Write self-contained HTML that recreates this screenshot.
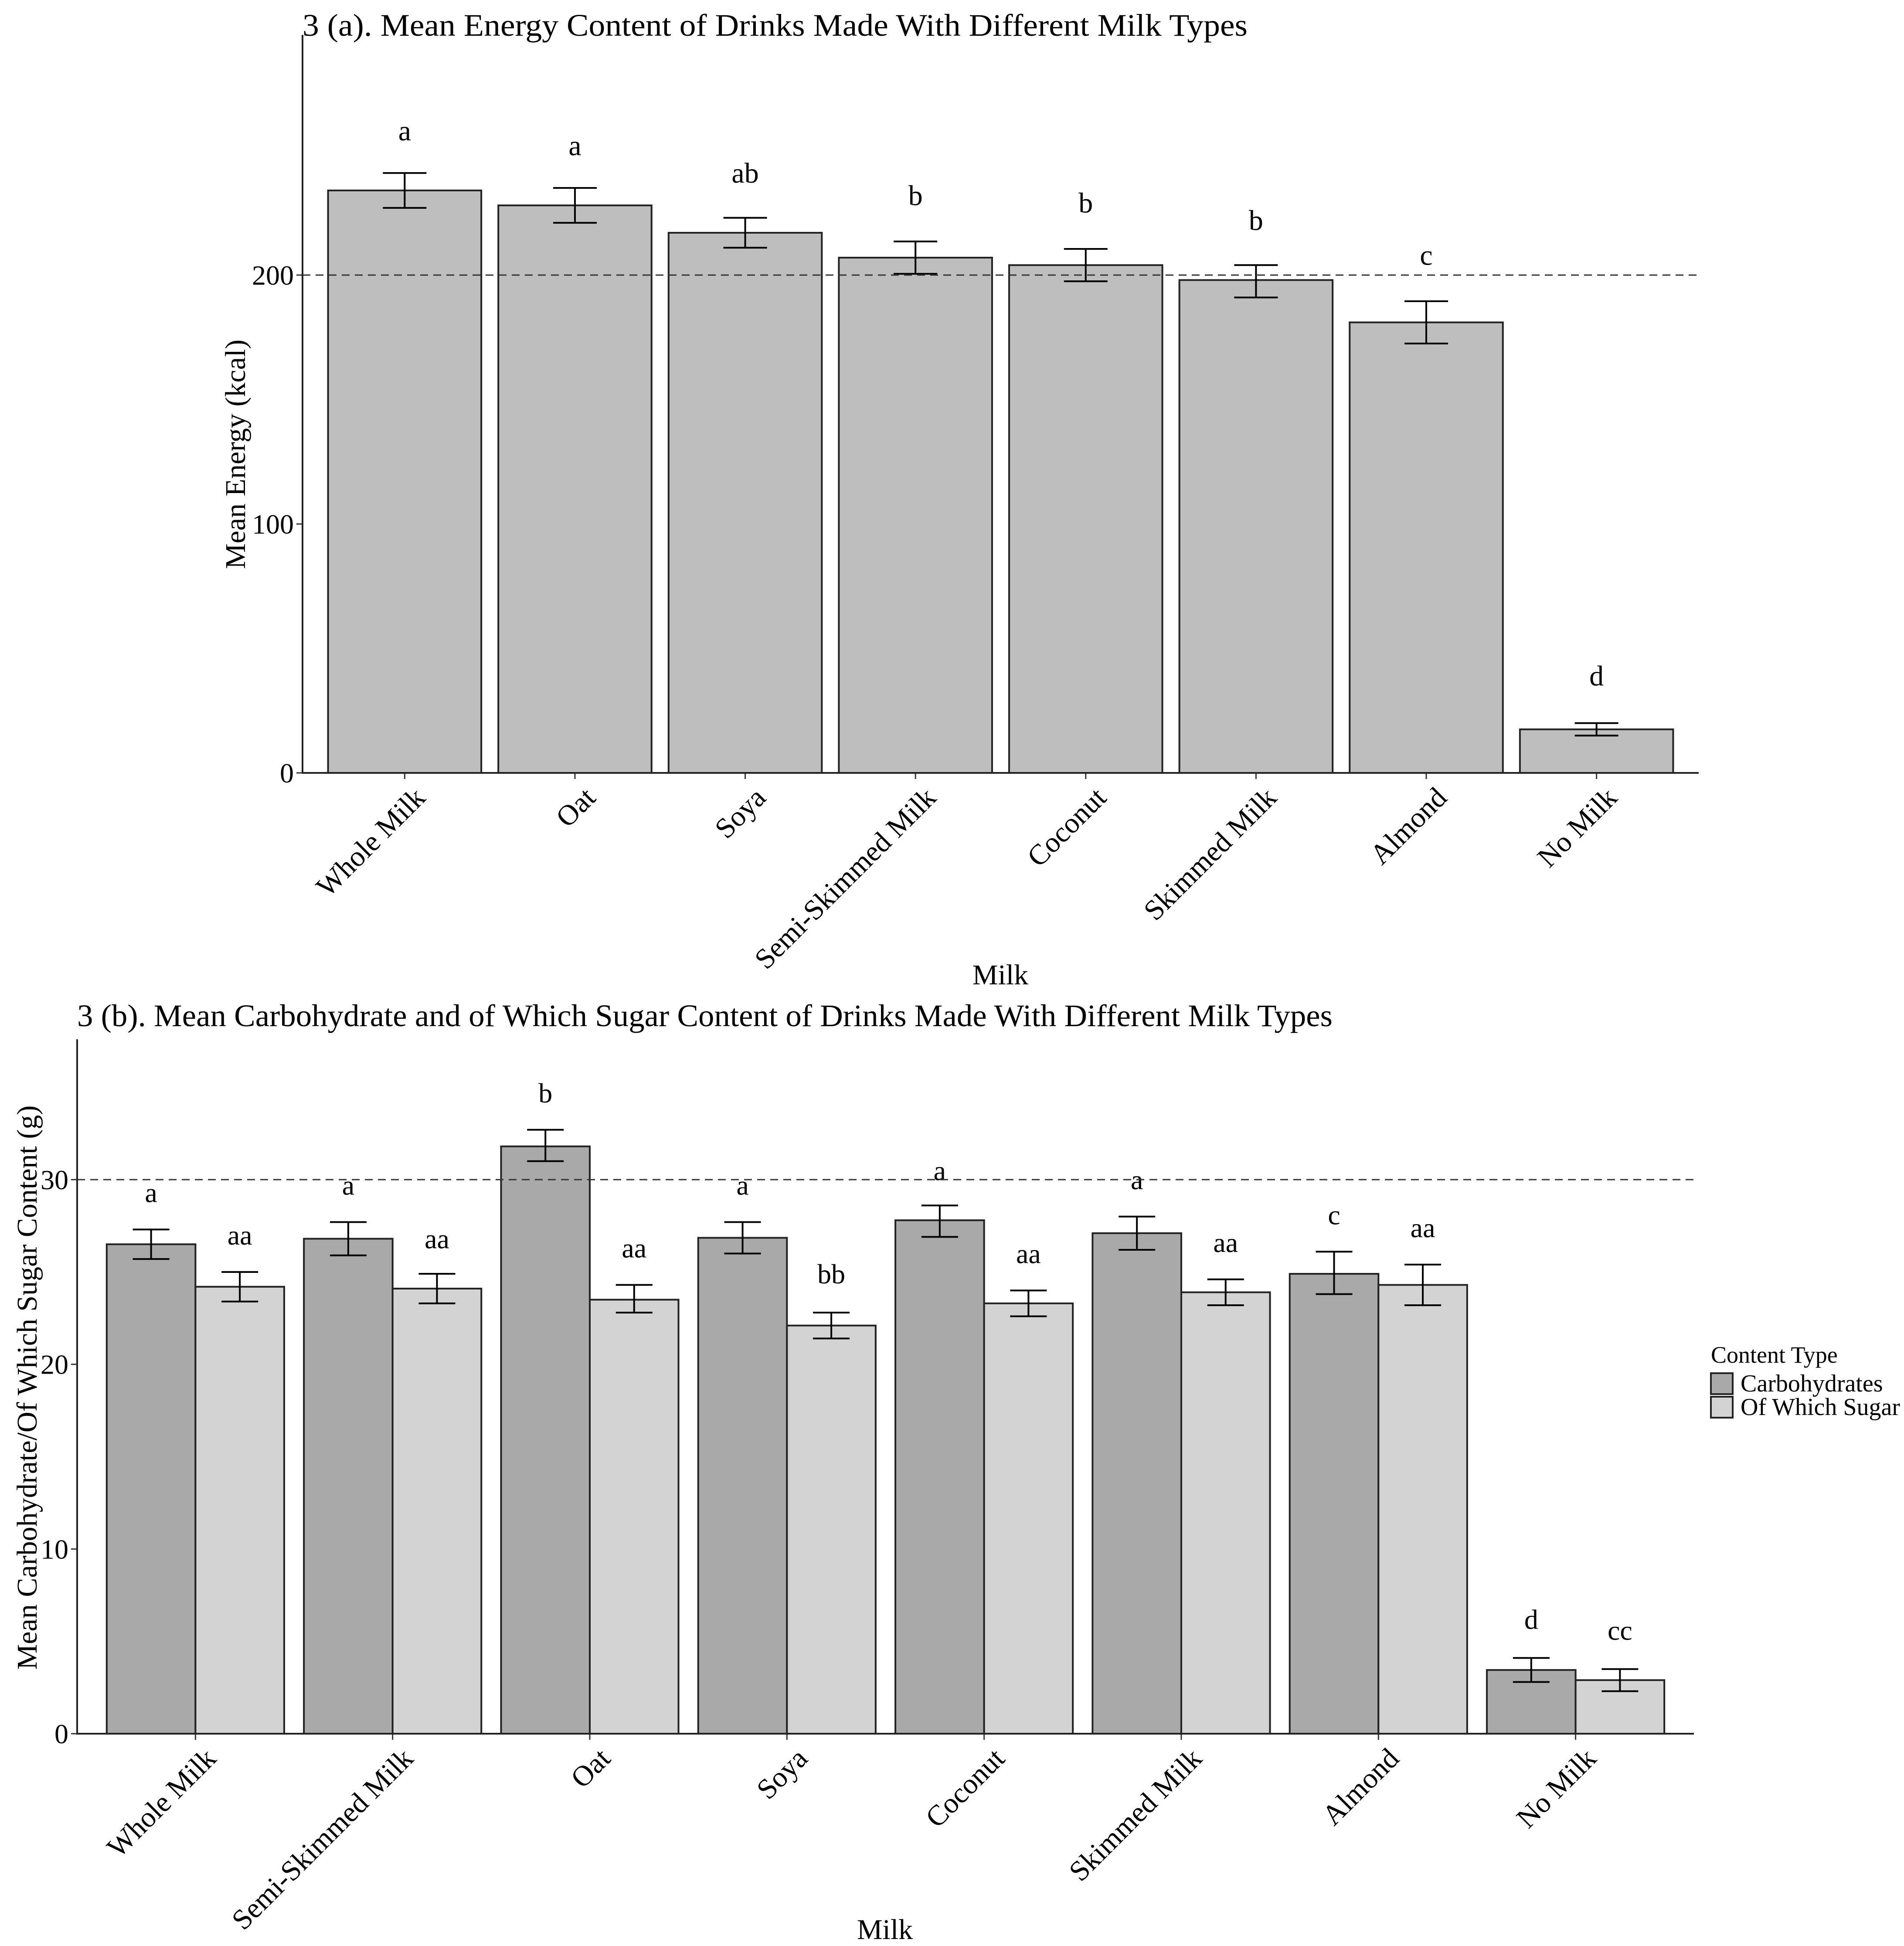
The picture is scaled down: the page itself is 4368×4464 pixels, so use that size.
<!DOCTYPE html>
<html><head><meta charset="utf-8"><style>
html,body{margin:0;padding:0;background:#fff;}
svg{display:block;font-family:"Liberation Serif","DejaVu Serif",serif;}
</style></head><body>
<svg id="chart" width="4368" height="4464" viewBox="0 0 4368 4464" xmlns="http://www.w3.org/2000/svg">
<g id="pa"></g>
<g id="pb"></g>
</svg>
<script>
// Panel A data
const catsA = ["Whole Milk","Oat","Soya","Semi-Skimmed Milk","Coconut","Skimmed Milk","Almond","No Milk"];
const energy = [234,228,217,207,204,198,181,17.5];
const energyHi = [241,235,223,213.5,210.5,204,189.5,20];
const energyLo = [227,221,211,200.5,197.5,191,172.5,15];
const lettersA = ["a","a","ab","b","b","b","c","d"];
const letterYA = [258,252,241,232,229,222,208,39];
const ticksA = [0,100,200];
const refA = 200;
// Panel B data
const catsB = ["Whole Milk","Semi-Skimmed Milk","Oat","Soya","Coconut","Skimmed Milk","Almond","No Milk"];
const carbs = [26.5,26.8,31.8,26.85,27.8,27.1,24.9,3.45];
const carbsHi = [27.3,27.7,32.7,27.7,28.6,28.0,26.1,4.1];
const carbsLo = [25.7,25.9,31.0,26.0,26.9,26.2,23.8,2.8];
const sugar = [24.2,24.1,23.5,22.1,23.3,23.9,24.3,2.9];
const sugarHi = [25.0,24.9,24.3,22.8,24.0,24.6,25.4,3.5];
const sugarLo = [23.4,23.3,22.8,21.4,22.6,23.2,23.2,2.3];
const lettersCarb = ["a","a","b","a","a","a","c","d"];
const letterYCarb = [29.3,29.7,34.7,29.7,30.5,30.0,28.1,6.2];
const lettersSugar = ["aa","aa","aa","bb","aa","aa","aa","cc"];
const letterYSugar = [27.0,26.8,26.3,24.9,26.0,26.6,27.4,5.6];
const ticksB = [0,10,20,30];
const refB = 30;
const legendLabels = ["Carbohydrates","Of Which Sugar"];

const NS="http://www.w3.org/2000/svg";
function mk(parent,tag,attrs,text){const e=document.createElementNS(NS,tag);for(const k in attrs)e.setAttribute(k,attrs[k]);if(text!==undefined)e.textContent=text;parent.appendChild(e);return e;}

// ---------- Panel A ----------
(function(){
  const g=document.getElementById('pa');
  const L=694,R=3897,B=1773,T=80,ymax=296.5;
  const y=v=>B-(v/ymax)*(B-T);
  const unit=(R-L)/(catsA.length+0.2);
  const x=i=>L+(0.6+i)*unit;
  const bw=0.9*unit;
  const t=mk(g,'text',{x:694,y:82,'font-size':72,fill:'#000',textLength:2168,lengthAdjust:'spacingAndGlyphs'},"3 (a). Mean Energy Content of Drinks Made With Different Milk Types");
  
  catsA.forEach((c,i)=>{
    const r=mk(g,'rect',{x:x(i)-bw/2,y:y(energy[i]),width:bw,height:B-y(energy[i]),fill:'#bebebe',stroke:'#222','stroke-width':4});
    
    
    const eb=mk(g,'path',{d:`M${x(i)-50},${y(energyHi[i])}H${x(i)+50}M${x(i)},${y(energyHi[i])}V${y(energyLo[i])}M${x(i)-50},${y(energyLo[i])}H${x(i)+50}`,stroke:'#000','stroke-width':4,fill:'none'});
    
    const lt=mk(g,'text',{x:x(i),y:y(letterYA[i])+22,'font-size':66,'text-anchor':'middle'},lettersA[i]);
    
    mk(g,'line',{x1:x(i),x2:x(i),y1:B,y2:B+14,stroke:'#333','stroke-width':3});
    const xl=mk(g,'text',{transform:`translate(${x(i)+18},${B+28}) rotate(-45)`,'font-size':66,'text-anchor':'end','dominant-baseline':'hanging'},c);
    
  });
  const rl=mk(g,'line',{x1:L,x2:R,y1:y(refA),y2:y(refA),stroke:'#333','stroke-width':3,'stroke-dasharray':'18 12'});
  
  ticksA.forEach(v=>{
    mk(g,'line',{x1:L-14,x2:L,y1:y(v),y2:y(v),stroke:'#333','stroke-width':3});
    const tl=mk(g,'text',{x:L-20,y:y(v)+22,'font-size':64,'text-anchor':'end'},v);
    
  });
  const ax=mk(g,'path',{d:`M${L},${T}V${B}H${R}`,stroke:'#222','stroke-width':4,fill:'none'});
  
  const yt=mk(g,'text',{transform:`translate(562,1042) rotate(-90)`,'font-size':66,'text-anchor':'middle'},"Mean Energy (kcal)");
  
  const xt=mk(g,'text',{x:2295,y:2258,'font-size':66,'text-anchor':'middle'},"Milk");
  
})();

// ---------- Panel B ----------
(function(){
  const g=document.getElementById('pb');
  const L=177,R=3886,B=3977,T=2384,ymax=37.6;
  const y=v=>B-(v/ymax)*(B-T);
  const unit=(R-L)/(catsB.length+0.2);
  const x=i=>L+(0.6+i)*unit;
  const bw=0.45*unit;
  const t=mk(g,'text',{x:177,y:2354,'font-size':72,fill:'#000',textLength:2880,lengthAdjust:'spacingAndGlyphs'},"3 (b). Mean Carbohydrate and of Which Sugar Content of Drinks Made With Different Milk Types");
  
  const series=[[carbs,carbsHi,carbsLo,lettersCarb,letterYCarb,'#a9a9a9',-1],[sugar,sugarHi,sugarLo,lettersSugar,letterYSugar,'#d3d3d3',1]];
  catsB.forEach((c,i)=>{
    series.forEach((s,k)=>{
      const cx=x(i)+s[6]*bw/2;
      const r=mk(g,'rect',{x:cx-bw/2,y:y(s[0][i]),width:bw,height:B-y(s[0][i]),fill:s[5],stroke:'#222','stroke-width':4});
      
      
      const eb=mk(g,'path',{d:`M${cx-42},${y(s[1][i])}H${cx+42}M${cx},${y(s[1][i])}V${y(s[2][i])}M${cx-42},${y(s[2][i])}H${cx+42}`,stroke:'#000','stroke-width':4,fill:'none'});
      
      const lt=mk(g,'text',{x:cx,y:y(s[4][i])+22,'font-size':64,'text-anchor':'middle'},s[3][i]);
      
    });
    mk(g,'line',{x1:x(i),x2:x(i),y1:B,y2:B+14,stroke:'#333','stroke-width':3});
    const xl=mk(g,'text',{transform:`translate(${x(i)+18},${B+28}) rotate(-45)`,'font-size':66,'text-anchor':'end','dominant-baseline':'hanging'},c);
    
  });
  const rl=mk(g,'line',{x1:L,x2:R,y1:y(refB),y2:y(refB),stroke:'#333','stroke-width':3,'stroke-dasharray':'18 12'});
  
  ticksB.forEach(v=>{
    mk(g,'line',{x1:L-14,x2:L,y1:y(v),y2:y(v),stroke:'#333','stroke-width':3});
    const tl=mk(g,'text',{x:L-20,y:y(v)+22,'font-size':64,'text-anchor':'end'},v);
    
  });
  const ax=mk(g,'path',{d:`M${L},${T}V${B}H${R}`,stroke:'#222','stroke-width':4,fill:'none'});
  
  const yt=mk(g,'text',{transform:`translate(84,3183) rotate(-90)`,'font-size':66,'text-anchor':'middle'},"Mean Carbohydrate/Of Which Sugar Content (g)");
  
  const xt=mk(g,'text',{x:2030,y:4448,'font-size':66,'text-anchor':'middle'},"Milk");
  
  // legend
  const lg=mk(g,'g',{});
  
  const lt=mk(lg,'text',{x:3925,y:3126,'font-size':54},"Content Type");
  
  legendLabels.forEach((lab,k)=>{
    const yy=3150+k*54;
    const sw=mk(lg,'rect',{x:3925,y:yy,width:50,height:48,fill:series[k][5],stroke:'#222','stroke-width':4});
    
    const tx=mk(lg,'text',{x:3993,y:yy+42,'font-size':56},lab);
    
  });
})();
</script>
</body></html>
